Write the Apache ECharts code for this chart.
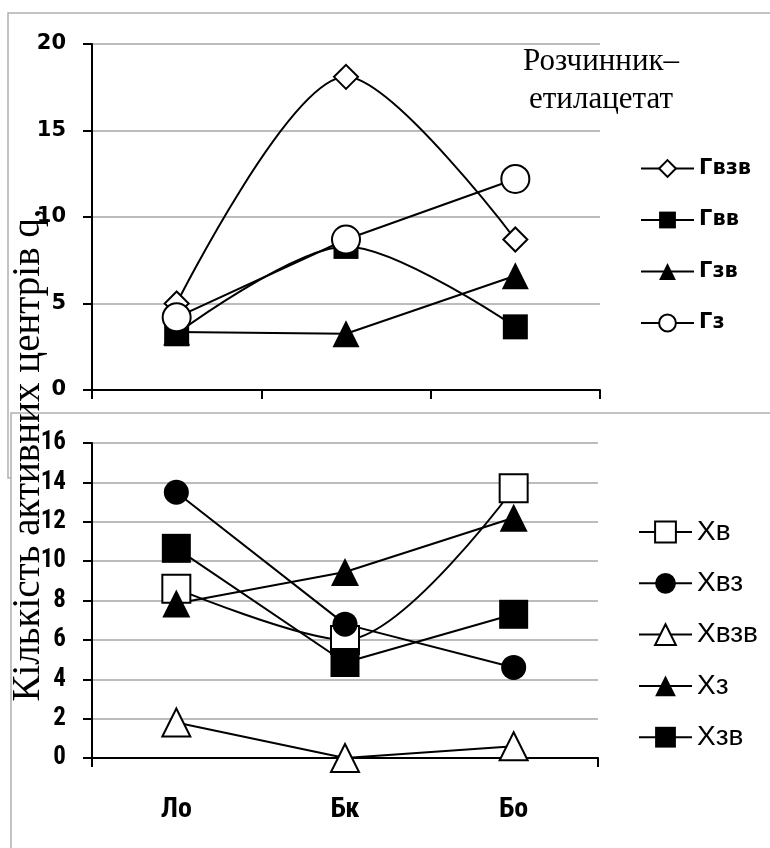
<!DOCTYPE html>
<html>
<head>
<meta charset="utf-8">
<script src="https://cdn.jsdelivr.net/npm/echarts@6/dist/echarts.min.js"></script>
<style>html,body{margin:0;padding:0;background:#fff}#c{width:770px;height:848px}</style>
</head>
<body>
<div id="c"></div>
<script>
// ---- data ----
const categories = ['Ло', 'Бк', 'Бо'];
const topNames = ['Гвзв', 'Гвв', 'Гзв', 'Гз'];
const gvzv = [5.0, 18.1, 8.7];
const gvv = [3.25, 8.3, 3.65];
const gzv = [3.35, 3.25, 6.6];
const gz = [4.2, 8.7, 12.2];
const bottomNames = ['Хв', 'Хвз', 'Хвзв', 'Хз', 'Хзв'];
const xv = [8.6, 6.0, 13.7];
const xvz = [13.5, 6.8, 4.6];
const xvzv = [1.8, 0, 0.6];
const xz = [7.85, 9.45, 12.2];
const xzv = [10.65, 4.85, 7.3];
const topTicks = [0, 5, 10, 15, 20];
const bottomTicks = [0, 2, 4, 6, 8, 10, 12, 14, 16];
const yTitle = 'Кількість активних центрів q,';
const note = ['Розчинник–', 'етилацетат'];

const chart = echarts.init(document.getElementById('c'), null, {renderer: 'canvas'});

const black = '#000';
const gridColor = '#a6a6a6';
const narrow = '"Roboto Condensed", "DejaVu Sans Condensed", sans-serif';
function ser(name, data, gi, symbol, size, open, smooth) {
  return {
    name, type: 'line', data, xAxisIndex: gi, yAxisIndex: gi,
    symbol, symbolSize: size, smooth: smooth ? 0.3 : false,
    showAllSymbol: true,
    lineStyle: {color: black, width: 2},
    itemStyle: {color: open ? '#fff' : black, borderColor: black, borderWidth: open ? 2 : 0, opacity: 1},
    emphasis: {disabled: true}, animation: false
  };
}

const option = {
  animation: false,
  grid: [
    {left: 92, top: 44, width: 508, height: 346},
    {left: 92, top: 443, width: 506, height: 315}
  ],
  xAxis: [
    {type: 'category', data: categories, gridIndex: 0, boundaryGap: true,
     axisLine: {lineStyle: {color: black, width: 2}},
     axisTick: {show: true, length: 9, lineStyle: {color: black, width: 2}},
     axisLabel: {show: false}},
    {type: 'category', data: categories, gridIndex: 1, boundaryGap: true,
     axisLine: {lineStyle: {color: black, width: 2}},
     axisTick: {show: true, length: 9, interval: function (i) { return i === 0; }, lineStyle: {color: black, width: 2}},
     axisLabel: {margin: 38, color: black, fontFamily: narrow, fontWeight: 'bold', fontSize: 28}}
  ],
  yAxis: [
    {type: 'value', gridIndex: 0, min: topTicks[0], max: topTicks[topTicks.length - 1], interval: 5,
     axisLine: {show: true, lineStyle: {color: black, width: 2}},
     axisTick: {show: true, length: 9, lineStyle: {color: black, width: 2}},
     splitLine: {show: true, lineStyle: {color: gridColor, width: 1.5}},
     axisLabel: {margin: 26, color: black, fontFamily: 'DejaVu Sans', fontWeight: 'bold', fontSize: 21}},
    {type: 'value', gridIndex: 1, min: bottomTicks[0], max: bottomTicks[bottomTicks.length - 1], interval: 2,
     axisLine: {show: true, lineStyle: {color: black, width: 2}},
     axisTick: {show: true, length: 9, lineStyle: {color: black, width: 2}},
     splitLine: {show: true, lineStyle: {color: gridColor, width: 1.5}},
     axisLabel: {margin: 26, color: black, fontFamily: narrow, fontWeight: 'bold', fontSize: 25}}
  ],
  legend: [
    {data: topNames, orient: 'vertical', left: 640, top: 158, padding: 0, itemWidth: 53, itemHeight: 21, itemGap: 30.5,
     textStyle: {color: black, fontFamily: 'DejaVu Sans', fontWeight: 'bold', fontSize: 21},
     selectedMode: false},
    {data: bottomNames, orient: 'vertical', left: 638, top: 518, padding: 0, itemWidth: 53, itemHeight: 26, itemGap: 23.3,
     textStyle: {color: black, fontFamily: '"Liberation Sans"', fontSize: 28},
     selectedMode: false}
  ],
  series: [
    ser(topNames[0], gvzv, 0, 'diamond', 24, true, true),
    ser(topNames[1], gvv, 0, 'rect', 25, false, true),
    ser(topNames[2], gzv, 0, 'triangle', 27, false, false),
    ser(topNames[3], gz, 0, 'circle', 28, true, false),
    ser(bottomNames[0], xv, 1, 'rect', 28, true, true),
    ser(bottomNames[1], xvz, 1, 'circle', 25, false, false),
    ser(bottomNames[2], xvzv, 1, 'triangle', 28, true, false),
    ser(bottomNames[3], xz, 1, 'triangle', 28, false, false),
    ser(bottomNames[4], xzv, 1, 'rect', 29, false, false)
  ],
  graphic: [
    {type: 'polyline', shape: {points: [[11, 478], [8, 478], [8, 13], [770, 13]]}, style: {stroke: '#b0b0b0', lineWidth: 1.5, fill: null}, silent: true},
    {type: 'polyline', shape: {points: [[11, 848], [11, 413], [770, 413]]}, style: {stroke: '#b0b0b0', lineWidth: 1.5, fill: null}, silent: true},
    {type: 'text', x: 601, y: 62, style: {text: note[0], x: 0, y: 0, fill: black, font: '31px "Liberation Serif"', textAlign: 'center', textVerticalAlign: 'middle'}, silent: true},
    {type: 'text', x: 601, y: 100, style: {text: note[1], x: 0, y: 0, fill: black, font: '31px "Liberation Serif"', textAlign: 'center', textVerticalAlign: 'middle'}, silent: true},
    {type: 'text', x: 29, y: 455, rotation: Math.PI / 2, style: {text: yTitle, x: 0, y: 0, fill: black, font: '39px "Liberation Serif"', textAlign: 'center', textVerticalAlign: 'middle'}, silent: true, z: 100}
  ]
};
chart.setOption(option);
</script>
</body>
</html>
